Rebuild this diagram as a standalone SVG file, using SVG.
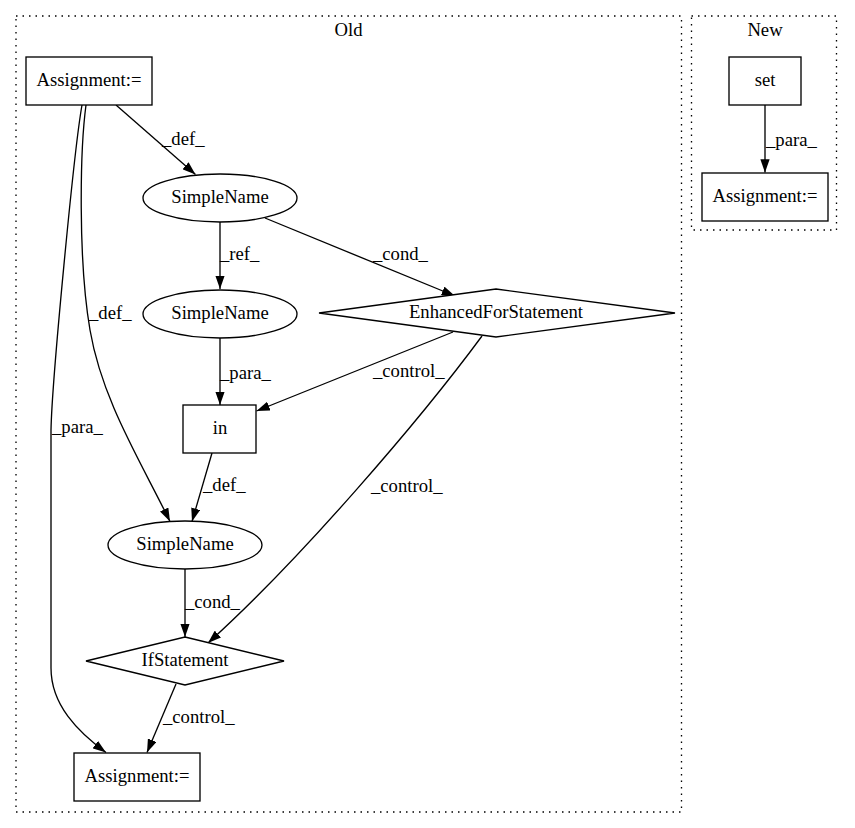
<svg xmlns="http://www.w3.org/2000/svg" width="855" height="828" viewBox="0 0 855 828">
<style>
text{font-family:"Liberation Serif","Times New Roman",serif;font-size:18.67px;fill:#000}
.c{text-anchor:middle}
.n{fill:#fff;stroke:#000;stroke-width:1.33}
.cl{fill:none;stroke:#000;stroke-width:1.33;stroke-dasharray:1.5,5}
.e{fill:none;stroke:#000;stroke-width:1.33;marker-end:url(#ah)}
</style>
<defs>
<marker id="ah" viewBox="0 0 10 7" refX="10" refY="3.5" markerWidth="13.3" markerHeight="9.33" markerUnits="userSpaceOnUse" orient="auto">
<polygon points="0,0 10,3.5 0,7" fill="#000"/>
</marker>
</defs>
<rect width="855" height="828" fill="#fff"/>
<g id="cluster_old">
<rect class="cl" x="16" y="16" width="665.5" height="796"/>
<text class="c" x="348.5" y="36">Old</text>
</g>
<g id="cluster_new">
<rect class="cl" x="691.5" y="16" width="145" height="214"/>
<text class="c" x="765" y="36">New</text>
</g>
<g id="edges">
<path class="e" d="M116,105 L195.5,174.5"/>
<path class="e" d="M86,105 C80,150 78,260 90,330 C102,400 140,460 170,521.5"/>
<path class="e" d="M82,105 C74,150 52,380 51,430 L51,668 C51,705 78,732 106,752.5"/>
<path class="e" d="M220,222 L220,289"/>
<path class="e" d="M265,218 L455,296"/>
<path class="e" d="M220,338 L220,405"/>
<path class="e" d="M453,332 L256.5,411"/>
<path class="e" d="M482,336 C420,420 300,560 208,643"/>
<path class="e" d="M212,453 L192,521.5"/>
<path class="e" d="M185,569 L185,637"/>
<path class="e" d="M176,684 L147,752.5"/>
<path class="e" d="M765,105 L765,172.5"/>
<text x="162" y="145">_def_</text>
<text x="89" y="319">_def_</text>
<text x="52" y="433">_para_</text>
<text x="220" y="260">_ref_</text>
<text x="373" y="260">_cond_</text>
<text x="220" y="379">_para_</text>
<text x="373" y="377">_control_</text>
<text x="371" y="492">_control_</text>
<text x="203" y="491">_def_</text>
<text x="185" y="608">_cond_</text>
<text x="163" y="723">_control_</text>
<text x="766" y="146">_para_</text>
</g>
<g id="assign_top">
<rect class="n" x="26" y="57" width="126" height="48"/>
<text class="c" x="89" y="86">Assignment:=</text>
</g>
<g id="simplename_1">
<ellipse class="n" cx="220" cy="198" rx="77" ry="24"/>
<text class="c" x="220" y="203">SimpleName</text>
</g>
<g id="simplename_2">
<ellipse class="n" cx="220" cy="314" rx="77" ry="24"/>
<text class="c" x="220" y="319">SimpleName</text>
</g>
<g id="enhanced_for">
<polygon class="n" points="496,289 675,313 496,337 319,313"/>
<text class="c" x="496" y="318">EnhancedForStatement</text>
</g>
<g id="in">
<rect class="n" x="183" y="405" width="73" height="48"/>
<text class="c" x="220" y="434">in</text>
</g>
<g id="simplename_3">
<ellipse class="n" cx="185" cy="545" rx="77" ry="24"/>
<text class="c" x="185" y="550">SimpleName</text>
</g>
<g id="if_statement">
<polygon class="n" points="185,637 284,661 185,685 86,661"/>
<text class="c" x="185" y="666">IfStatement</text>
</g>
<g id="assign_bottom">
<rect class="n" x="74" y="753" width="126" height="48"/>
<text class="c" x="137" y="782">Assignment:=</text>
</g>
<g id="set">
<rect class="n" x="729" y="57" width="72" height="48"/>
<text class="c" x="765" y="86">set</text>
</g>
<g id="assign_new">
<rect class="n" x="702" y="173" width="126" height="48"/>
<text class="c" x="765" y="202">Assignment:=</text>
</g>
</svg>
